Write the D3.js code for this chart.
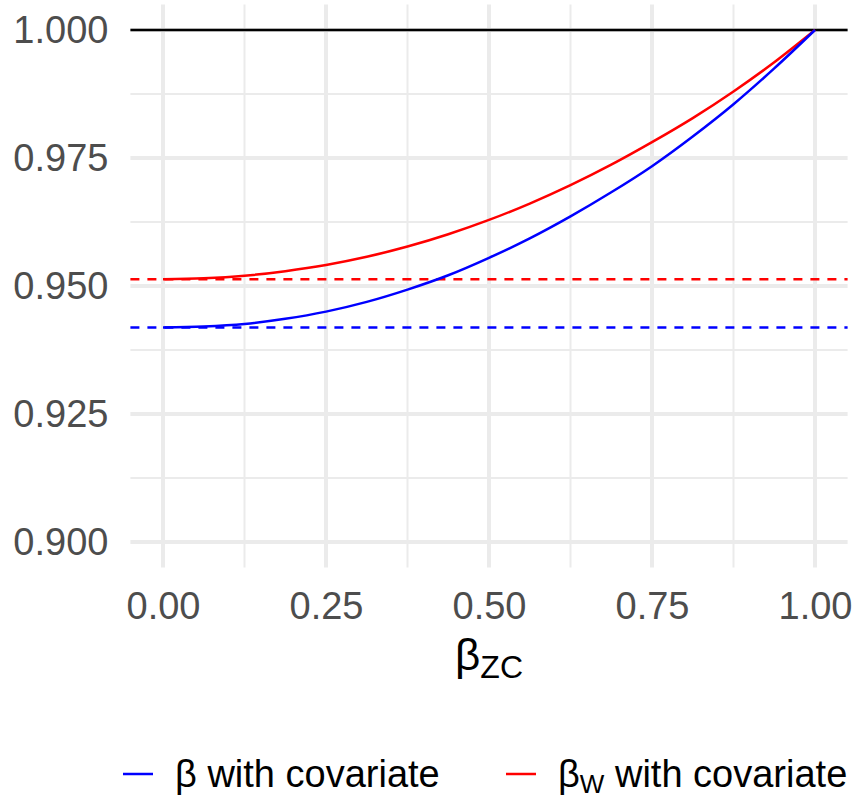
<!DOCTYPE html>
<html>
<head>
<meta charset="utf-8">
<script src="https://cdn.jsdelivr.net/npm/d3@7"></script>
<style>
  body { margin: 0; background: #fff; }
  svg { font-family: "Liberation Sans", Arial, Helvetica, sans-serif; }
</style>
</head>
<body>
<div id="chart"></div>
<script>
// data
var betaZC = [0, 0.0625, 0.125, 0.1875, 0.25, 0.3125, 0.375, 0.4375, 0.5, 0.5625, 0.625, 0.6875, 0.75, 0.8125, 0.875, 0.9375, 1];
var betaCov = [0.9419, 0.9421, 0.9426, 0.9436, 0.9450, 0.9469, 0.9493, 0.9521, 0.9555, 0.9593, 0.9636, 0.9683, 0.9734, 0.9792, 0.9855, 0.9925, 1.0];
var betaWCov = [0.9513, 0.9515, 0.9520, 0.9529, 0.9541, 0.9557, 0.9577, 0.9601, 0.9629, 0.9661, 0.9697, 0.9737, 0.9781, 0.9828, 0.9880, 0.9937, 1.0];
var refLevels = [0.9419, 0.9513];   // dashed: blue, red
var oneLine = 1.0;
var xTicks = [0, 0.25, 0.5, 0.75, 1];
var yTicks = [0.9, 0.925, 0.95, 0.975, 1.0];
var seriesNames = ["β with covariate", "βW with covariate"];
var seriesColors = ["#0000ff", "#ff0000"];

var width = 856,
    height = 799,
    margin = {left: 130.4, right: 8.4, top: 4.4, bottom: 231.4};

var svg = d3.select("#chart").append("svg")
    .attr("width", width)
    .attr("height", height);

var x = d3.scaleLinear().domain([-0.05, 1.05]).range([margin.left, width - margin.right]);
var y = d3.scaleLinear().domain([0.895, 1.005]).range([height - margin.bottom, margin.top]);

var grid = svg.append("g");
// minor grid
var xMinor = d3.range(0, 4).map(function(i) { return xTicks[i] + 0.125; });
var yMinor = d3.range(0, 4).map(function(i) { return yTicks[i] + 0.0125; });
grid.selectAll(".vmin").data(xMinor).enter().append("line")
    .attr("x1", d => x(d)).attr("x2", d => x(d))
    .attr("y1", y.range()[0]).attr("y2", y.range()[1])
    .attr("stroke", "#ebebeb").attr("stroke-width", 2);
grid.selectAll(".hmin").data(yMinor).enter().append("line")
    .attr("y1", d => y(d)).attr("y2", d => y(d))
    .attr("x1", x.range()[0]).attr("x2", x.range()[1])
    .attr("stroke", "#ebebeb").attr("stroke-width", 2);
// major grid
grid.selectAll(".vmaj").data(xTicks).enter().append("line")
    .attr("x1", d => x(d)).attr("x2", d => x(d))
    .attr("y1", y.range()[0]).attr("y2", y.range()[1])
    .attr("stroke", "#ebebeb").attr("stroke-width", 4);
grid.selectAll(".hmaj").data(yTicks).enter().append("line")
    .attr("y1", d => y(d)).attr("y2", d => y(d))
    .attr("x1", x.range()[0]).attr("x2", x.range()[1])
    .attr("stroke", "#ebebeb").attr("stroke-width", 4);

// reference lines
svg.append("line")
    .attr("x1", x.range()[0]).attr("x2", x.range()[1])
    .attr("y1", y(oneLine)).attr("y2", y(oneLine))
    .attr("stroke", "#000").attr("stroke-width", 2.5);

svg.selectAll(".ref").data(refLevels).enter().append("line")
    .attr("x1", x.range()[0]).attr("x2", x.range()[1])
    .attr("y1", d => y(d)).attr("y2", d => y(d))
    .attr("stroke", (d, i) => seriesColors[i])
    .attr("stroke-width", 2.5)
    .attr("stroke-dasharray", "9,8");

// curves
var line = d3.line()
    .x(d => x(d[0]))
    .y(d => y(d[1]))
    .curve(d3.curveMonotoneX);

var series = [betaCov, betaWCov];
[1, 0].forEach(function(i) {
  svg.append("path")
    .datum(betaZC.map((b, j) => [b, series[i][j]]))
    .attr("d", line)
    .attr("fill", "none")
    .attr("stroke", seriesColors[i])
    .attr("stroke-width", 2.5);
});

// axes
var yAxis = svg.append("g")
    .attr("transform", "translate(" + margin.left + ",0)")
    .call(d3.axisLeft(y).tickValues(yTicks).tickFormat(d3.format(".3f")).tickSize(0).tickPadding(22));
var xAxis = svg.append("g")
    .attr("transform", "translate(0," + (height - margin.bottom) + ")")
    .call(d3.axisBottom(x).tickValues(xTicks).tickFormat(d3.format(".2f")).tickSize(0).tickPadding(24));
[yAxis, xAxis].forEach(function(a) {
  a.select(".domain").remove();
  a.selectAll("text").attr("fill", "#4d4d4d").style("font-size", "38px");
});

// axis title
var xt = svg.append("text")
    .attr("x", (x.range()[0] + x.range()[1]) / 2)
    .attr("y", 670)
    .attr("text-anchor", "middle")
    .style("font-size", "44px")
    .attr("fill", "#000");
xt.append("tspan").text("β");
xt.append("tspan").attr("dy", 8).style("font-size", "32px").text("ZC");

// legend
var legendX = [123, 506];
var leg = svg.selectAll(".leg").data(seriesNames).enter().append("g")
    .attr("transform", (d, i) => "translate(" + legendX[i] + ",774)");
leg.append("line")
    .attr("x1", 0).attr("x2", 30)
    .attr("stroke", (d, i) => seriesColors[i])
    .attr("stroke-width", 2.5);
var lt = leg.append("text")
    .attr("x", 52).attr("y", 13)
    .style("font-size", "38px")
    .attr("fill", "#000");
lt.append("tspan").text("β");
lt.filter((d, i) => i == 1).append("tspan").attr("dy", 6).style("font-size", "26px").text("W");
lt.append("tspan").attr("dy", (d, i) => i == 1 ? -6 : 0).text(" with covariate");
</script>
</body>
</html>
